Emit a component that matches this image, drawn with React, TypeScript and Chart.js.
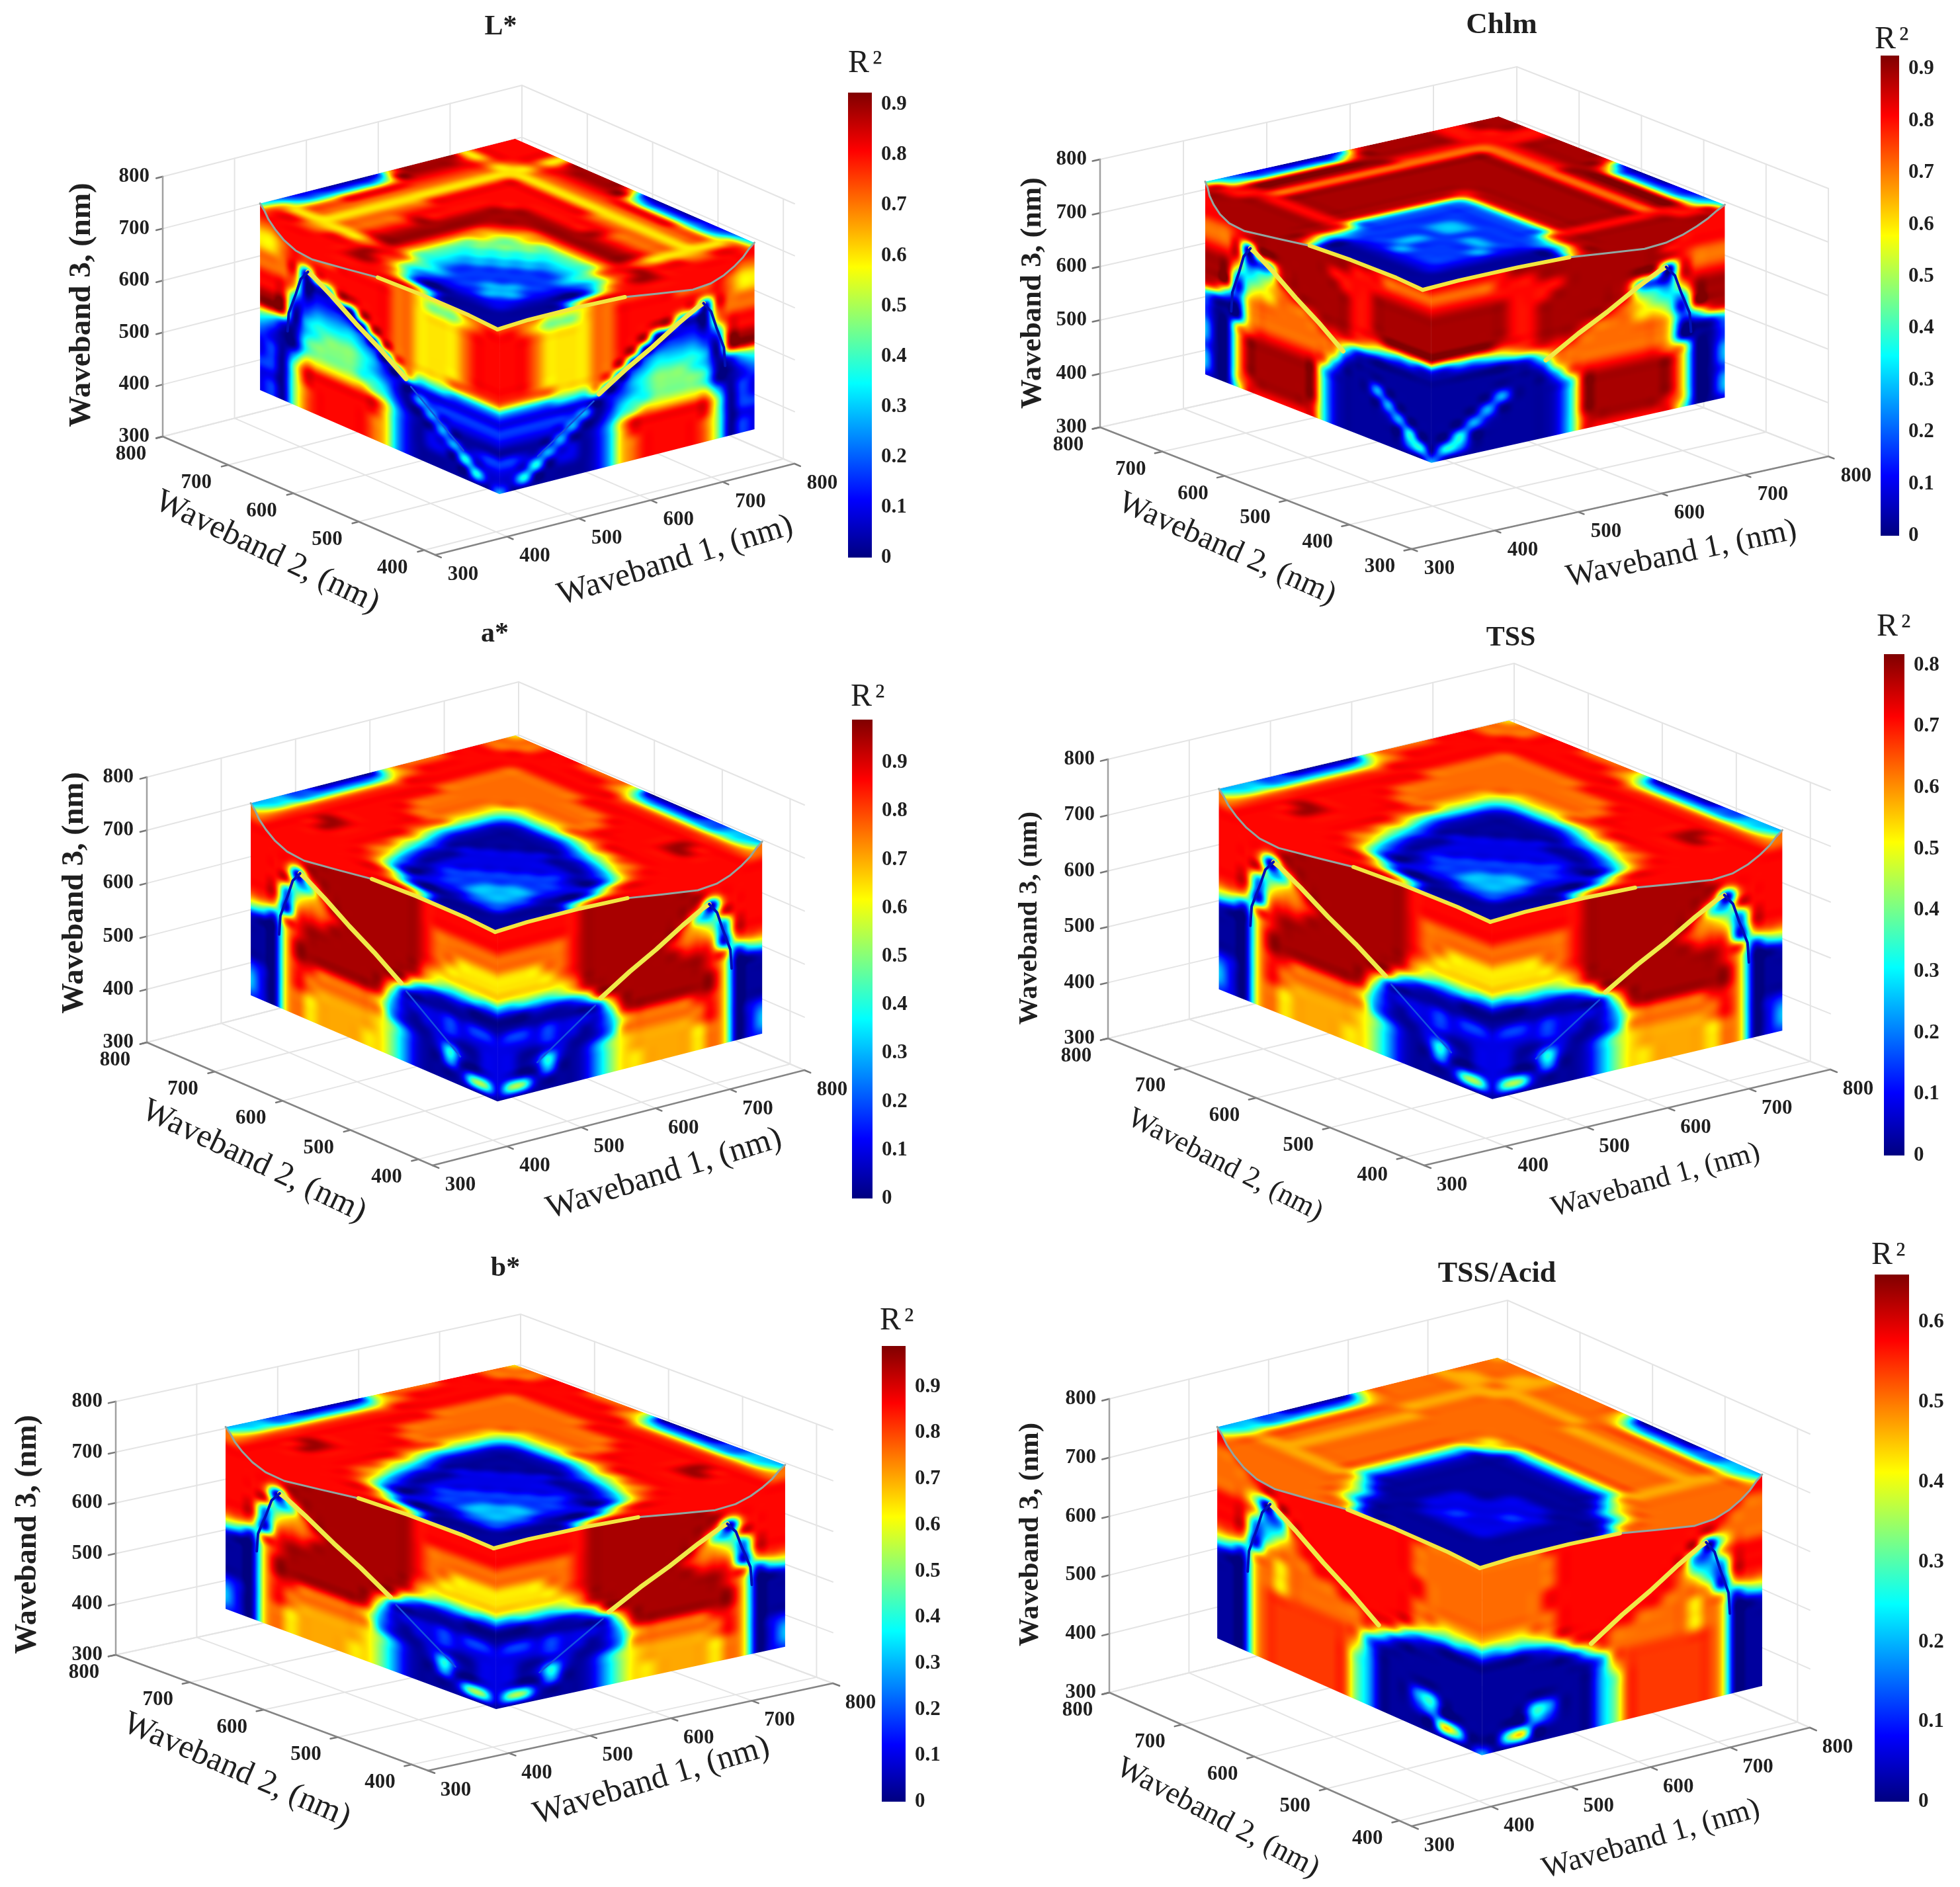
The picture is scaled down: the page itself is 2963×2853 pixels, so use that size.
import React, { useEffect, useRef } from 'react';
import { Chart, registerables } from 'chart.js';
Chart.register(...registerables);

// R², one hex digit per grid node: LEVELS[d] * colour-bar maximum.
const LEVELS = [0.03, 0.1, 0.18, 0.3, 0.4, 0.5, 0.65, 0.77, 0.87, 0.96, 0.71, 0.82];
const WB_TICKS = [300, 400, 500, 600, 700, 800];
const WB2_TICKS_SHORT = [400, 500, 600, 700, 800];

// Top faces: half of a symmetric grid (rows toward the left corner, columns toward the right corner), pitch 5 % of the edge.
const L_TOP = ['8','88','888','8887','66766','988768','9987688','99876888','998768888','9987688899','69876888999','158768889987','0387678899765','03876788997655','038767899975544','0387677899754433','13776778997543322','137767789975432222','2477677899754322233','36666666788754322232','478877888987532111111','5788888889987520','5788888888888887510','57888888888888887510','57888888888888887510','57888888888888887510'];
const CHL_TOP = ['9','99','998','8888','88887','999879','9998799','99987999','999879999','9998799999','79997999998','269979999984','0399799999832','03997999998322','039979999983223','0399799999832233','13997999998322222','139979999983222322','2499799999832223222','35888888888732223222','488899999998421111111','58999999999840','589999999999610','5899999999998410','5899999999998410','5899999999998410'];
const A_TOP = ['6','77','778','8888','88887','888877','7888777','78887777','788877777','7788777765','56888777642','047887776410','0378877764100','03788877741000','037888887410011','0378888875201111','23788888863101112','237888888641011222','3478998887520122233','34788988876310122333','357888888875201111222','4678888888887520','5678888888888887510','56788888888888887510','56788888888888887510','56788888888888887510'];
const TSS_TOP = A_TOP;
const B_TOP = A_TOP;
const ACID_TOP = ['a','77','777','7aa7','aaaaa','777a77','777a777','777a7777','777a77777','777a777776','5677a777764','0477a7777410','0377a77774100','0377a777741000','0377a7777410000','0377a77774100000','2377a777741000111','2377a7777410001111','3477a77774100011211','34aaaaaaaa4100011111','35777777776410','46777777777520','467777777777620','4677777777777620','4677777777777620','4677777777777620'];

// Side faces: rows from the top edge down, columns from the outer edge to the front edge.
const L_SIDE = ['8888777777777777777777','8888777777777777777777','7788777777777766667777','6678777888887765556788','6678788888887766667888','7778177888887766667888','7777012888887766667888','8886011108887766667888','8883122210887766667888','9991233332087766667888','9980344443207766677777','5420345554310644433333','3200455554321011111111','2100455554431032222222','1203666666542003111111','1205888888863100300000','2205888888863101131122','1105788888763101104111','1205788888763100000411','1205788888763100000003'];
const CHL_SIDE = ['8889999999999999888888','8889999999999999888888','8888999999999999888888','8888899999999988877777','7778899999998888888888','7778089999999888999999','8888123899999988999999','9996345899999988999999','9993456789999988999999','9991566777899988899999','8742677777788876543322','3100677777777521000000','2000677777776200000000','2006788888873000000000','3006999999941000300000','3006999999941000030000','2006999999941000013000','3006999999941000000400','3006899999841000000340','1005888888841000000003'];
const A_SIDE = ['7778888899999998888888','7788888899999998888888','8888888999999998888888','8888889999999998888888','8888799999999998888888','8887079999999998777777','8888348999999998777777','8883567999999998776666','8882677899999998766666','7761788999999997666666','5427899999999986544433','1006899999999842111000','0006999999996200000000','0006999999984111121221','0006887777763101121111','00068777777a3100110011','210687aaaaa653101410112','310676aaaaa653100300111','310676aaaa6653100015510','210676aaaa6653100000003'];
const TSS_SIDE = A_SIDE;
const B_SIDE = A_SIDE;
const ACID_SIDE = ['8888888888888888888888','8888888888888888888888','7788888888888888877777','7778888888888888777777','7777888888888888777777','7775088888888888777777','8886238888888888877777','8883347888888888877777','8882467888888888777777','7761677788888888776666','5426767777888888654433','1006767777778874210000','0006767777777520000000','0006bbbbbbb73100000000','0006bbbbbbb63000000000','0006bbbbbbb53000000000','0006bbbbbbb53000340000','0006bbbbbbb53000230000','0006bbbbbbb53000006500','0006bbbbbbb53000000003'];

// Ridge on the side faces and seam of the top face, as fractions of the face edges.
const RIDGE_U = [0.115, 0.12, 0.15, 0.17, 0.2, 0.225, 0.3, 0.4, 0.5, 0.61];
const RIDGE_V = [0.62, 0.52, 0.4, 0.31, 0.255, 0.27, 0.33, 0.42, 0.5, 0.6];
const TAIL_U = [0.63, 0.7, 0.78, 0.85];
const TAIL_V = [0.63, 0.7, 0.78, 0.85];
const SEAM_U = [1, 1.03, 1.07, 1.11, 1.15, 1.18, 1.19, 1.16, 1.13, 1.12, 1.12, 1.13];
const SEAM_V = [0, 0.05, 0.11, 0.18, 0.26, 0.34, 0.42, 0.53, 0.63, 0.8, 1.0, 1.13];
const SEAM_INNER_FROM = 8;

const PANELS: any[] = [
  { title: 'L*', tail: true, t: [757, 41, 42], r: [1282, 109], lf: [246, 660], fr: [658, 839], rt: [1201, 701], zTop: 267, w2Min: 383, w2Ticks: WB2_TICKS_SHORT, w1R: [400, 755], w2R: [394.7, 761], w3R: [375.5, 734.5], vmax: 0.924, top: L_TOP, side: L_SIDE, bar: [1282, 140, 36, 703], zl: [124, 461, 47], w2l: [404, 835, 50, 25.5], w1l: [1021, 848, 50, -17] },
  { title: 'Chlm', tail: false, t: [2270, 38, 45], r: [2834, 73], lf: [1663, 646], fr: [2134, 830], rt: [2764, 690], zTop: 241, w2Min: 300, w2Ticks: WB_TICKS, w1R: [400, 752], w2R: [402, 765], w3R: [380, 740], vmax: 0.926, top: CHL_TOP, side: CHL_SIDE, bar: [2843, 84, 28, 726], zl: [1561, 443, 44.5], w2l: [1855, 830, 48, 24], w1l: [2542, 838, 48, -11.8] },
  { title: 'a*', tail: true, t: [748, 959, 42], r: [1286, 1067], lf: [222, 1576], fr: [654, 1762], rt: [1216, 1618], zTop: 1175, w2Min: 379, w2Ticks: WB2_TICKS_SHORT, w1R: [400, 756], w2R: [393, 756.5], w3R: [377, 739], vmax: 0.989, top: A_TOP, side: A_SIDE, bar: [1288, 1088, 31, 724], zl: [113, 1350, 46.5], w2l: [384, 1756, 50, 25.5], w1l: [1004, 1775, 50, -17.2] },
  { title: 'TSS', tail: true, t: [2284, 965, 42], r: [2837, 961], lf: [1675, 1570], fr: [2153, 1762], rt: [2767, 1617], zTop: 1148, w2Min: 373, w2Ticks: WB2_TICKS_SHORT, w1R: [400, 757], w2R: [390.7, 760], w3R: [375, 734], vmax: 0.818, top: TSS_TOP, side: TSS_SIDE, bar: [2848, 989, 31, 758], zl: [1556, 1388, 41], w2l: [1852, 1762, 44, 27], w1l: [2503, 1785, 44, -15.3] },
  { title: 'b*', tail: true, t: [764, 1918, 42], r: [1330, 2010], lf: [175, 2502], fr: [647, 2677], rt: [1259, 2545], zTop: 2119, w2Min: 378, w2Ticks: WB2_TICKS_SHORT, w1R: [400, 757], w2R: [395.4, 761], w3R: [377.5, 736.5], vmax: 0.9885, top: B_TOP, side: B_SIDE, bar: [1333, 2035, 36, 689], zl: [42, 2320, 46], w2l: [358, 2677, 50, 23.4], w1l: [985, 2693, 50, -16.5] },
  { title: 'TSS/Acid', tail: false, t: [2263, 1927, 44], r: [2829, 1911], lf: [1677, 2559], fr: [2134, 2761], rt: [2736, 2612], zTop: 2115, w2Min: 383, w2Ticks: WB2_TICKS_SHORT, w1R: [400, 752], w2R: [396, 761], w3R: [380, 740], vmax: 0.66, top: ACID_TOP, side: ACID_SIDE, bar: [2834, 1927, 52, 797], zl: [1558, 2320, 43], w2l: [1841, 2749, 46, 27.7], w1l: [2496, 2781, 46, -16] },
];

const SERIF = '"Liberation Serif", serif';
const TEXT = '#1f1f1f';
const W = 2963;
const H = 2853;

const clamp01 = (v: number) => Math.max(0, Math.min(1, v));
function jet(t: number): [number, number, number] {
  return [
    255 * clamp01(Math.min(4 * t - 1.5, -4 * t + 4.5)),
    255 * clamp01(Math.min(4 * t - 0.5, -4 * t + 3.5)),
    255 * clamp01(Math.min(4 * t + 0.5, -4 * t + 2.5)),
  ];
}

function project(p: any, w1: number, w2: number, w3: number) {
  const a = (w1 - 300) / 500;
  const b = (w2 - p.w2Min) / (800 - p.w2Min);
  const c = (w3 - 300) / 500;
  return {
    x: p.fr[0] + a * (p.rt[0] - p.fr[0]) + b * (p.lf[0] - p.fr[0]),
    y: p.fr[1] + a * (p.rt[1] - p.fr[1]) + b * (p.lf[1] - p.fr[1]) - c * (p.lf[1] - p.zTop),
  };
}
const lerp = (r: number[], f: number) => r[1] - f * (r[1] - r[0]);
const topPt = (p: any, u: number, v: number) => project(p, lerp(p.w1R, u), lerp(p.w2R, v), p.w3R[1]);
const leftPt = (p: any, u: number, v: number) => project(p, p.w1R[0], lerp(p.w2R, u), lerp(p.w3R, v));
const rightPt = (p: any, u: number, v: number) => project(p, lerp(p.w1R, u), p.w2R[0], lerp(p.w3R, v));

const lv = (ch: string) => LEVELS[parseInt(ch, 16)];
function parseRows(rows: string[]) {
  const cols = rows.reduce((m, r) => Math.min(m, r.length), 99);
  return rows.map((r) => Array.from({ length: cols }, (_, c) => lv(r[c])));
}
function parseHalf(rows: string[]) {
  const n = rows.length;
  return Array.from({ length: n }, (_, i) =>
    Array.from({ length: n }, (_, j) => {
      const row = i >= j ? rows[i] : rows[j];
      const k = i >= j ? j : i;
      return lv(row[Math.min(k, row.length - 1)]);
    })
  );
}

function cubic(a: number, b: number, c: number, d: number, t: number) {
  return b + 0.5 * t * (c - a + t * (2 * a - 5 * b + 4 * c - d + t * (3 * (b - c) + d - a)));
}
function rasterize(mat: number[][], w: number, h: number) {
  const R = mat.length;
  const C = mat[0].length;
  const cv = document.createElement('canvas');
  cv.width = w;
  cv.height = h;
  const g = cv.getContext('2d')!;
  const img = g.createImageData(w, h);
  const horiz = mat.map((row) => {
    const out = new Float32Array(w);
    for (let x = 0; x < w; x++) {
      const f = (x / (w - 1)) * (C - 1);
      const i = Math.min(Math.floor(f), C - 2);
      out[x] = cubic(row[Math.max(i - 1, 0)], row[i], row[i + 1], row[Math.min(i + 2, C - 1)], f - i);
    }
    return out;
  });
  for (let y = 0; y < h; y++) {
    const f = (y / (h - 1)) * (R - 1);
    const i = Math.min(Math.floor(f), R - 2);
    const r0 = horiz[Math.max(i - 1, 0)];
    const r1 = horiz[i];
    const r2 = horiz[i + 1];
    const r3 = horiz[Math.min(i + 2, R - 1)];
    for (let x = 0; x < w; x++) {
      const [cr, cg, cb] = jet(clamp01(cubic(r0[x], r1[x], r2[x], r3[x], f - i)));
      const o = (y * w + x) * 4;
      img.data[o] = cr;
      img.data[o + 1] = cg;
      img.data[o + 2] = cb;
      img.data[o + 3] = 255;
    }
  }
  g.putImageData(img, 0, 0);
  return cv;
}

const seamLeft = () => SEAM_U.map((u, i) => [u, SEAM_V[i]]);
const seamOutline = () => {
  const l = seamLeft();
  const r = l.slice(0, -1).reverse().map(([u, v]) => [v, u]);
  return [...l, ...r];
};

function line(points: any[], color: string, width: number, order = 1) {
  return { type: 'scatter', data: points, showLine: true, pointRadius: 0, borderColor: color, borderWidth: width, borderCapStyle: 'round', borderJoinStyle: 'round', tension: 0, fill: false, order, clip: false };
}

function buildDatasets() {
  const ds: any[] = [];
  PANELS.forEach((p, idx) => {
    const P = (a: number, b: number, c: number) => project(p, a, b, c);
    const GRID = '#e4e4e4';
    WB_TICKS.forEach((t) => {
      ds.push(line([P(t, p.w2Min, 300), P(t, 800, 300)], GRID, 2, 4));
      ds.push(line([P(t, 800, 300), P(t, 800, 800)], GRID, 2, 4));
      ds.push(line([P(300, 800, t), P(800, 800, t)], GRID, 2, 4));
      ds.push(line([P(800, p.w2Min, t), P(800, 800, t)], GRID, 2, 4));
    });
    p.w2Ticks.forEach((t: number) => {
      ds.push(line([P(300, t, 300), P(800, t, 300)], GRID, 2, 4));
      ds.push(line([P(800, t, 300), P(800, t, 800)], GRID, 2, 4));
    });
    ds.push(line([P(300, 800, 300), P(300, p.w2Min, 300)], '#858585', 2.5, 3));
    ds.push(line([P(300, p.w2Min, 300), P(800, p.w2Min, 300)], '#858585', 2.5, 3));
    ds.push(line([P(300, 800, 300), P(300, 800, 800)], '#a0a0a0', 2.5, 3));
    WB_TICKS.forEach((t) => {
      ds.push(line([P(t, p.w2Min, 300), P(t, p.w2Min - 9, 300)], '#777', 2.5, 3));
      ds.push(line([P(300, 800, t), P(291, 800, t)], '#777', 2.5, 3));
    });
    p.w2Ticks.forEach((t: number) => ds.push(line([P(300, t, 300), P(291, t, 300)], '#777', 2.5, 3)));

    const a = p.w1R;
    const b = p.w2R;
    const c = p.w3R;
    ds.push({ type: 'scatter', data: [P(a[1], b[1], c[1]), P(a[0], b[1], c[1]), P(a[1], b[0], c[1]), P(a[0], b[0], c[0]), P(a[0], b[1], c[0]), P(a[1], b[0], c[0])], showLine: false, pointRadius: 0, order: 2, facePanel: idx });

    [(u: number, v: number) => leftPt(p, u, v), (u: number, v: number) => rightPt(p, u, v)].forEach((f) => {
      const pts = RIDGE_U.map((u, i) => f(u, RIDGE_V[i]));
      ds.push(line(pts.slice(0, 5), '#0010b8', 4));
      ds.push(line(pts.slice(4), '#f0ea48', 7));
      ds.push(line(pts.slice(4), '#1fd6ee', 5.5));
      ds.push(line(pts.slice(4), '#0010b8', 3.5));
      if (p.tail) {
        ds.push(line(pts.slice(6), '#9aa6a6', 1.5));
        ds.push(line(TAIL_U.map((u, i) => f(u, TAIL_V[i])), '#1450e0', 2.5));
      }
    });
    const seam = seamLeft();
    const inner = seam.slice(SEAM_INNER_FROM);
    [inner, inner.map(([u, v]) => [v, u])].forEach((s) => {
      const pts = s.map(([u, v]) => topPt(p, u, v));
      ds.push(line(pts, '#f3e63f', 6));
      ds.push(line(pts, '#27d8e8', 3.5));
    });
    const outer = seam.slice(0, SEAM_INNER_FROM + 2);
    [outer, outer.map(([u, v]) => [v, u])].forEach((s) => ds.push(line(s.map(([u, v]) => topPt(p, u, v)), '#93a5a0', 3)));
  });
  return ds;
}

function drawFace(ctx: CanvasRenderingContext2D, img: HTMLCanvasElement, o: number[], ex: number[], ey: number[]) {
  ctx.save();
  ctx.transform((ex[0] - o[0]) / img.width, (ex[1] - o[1]) / img.width, (ey[0] - o[0]) / img.height, (ey[1] - o[1]) / img.height, o[0], o[1]);
  ctx.imageSmoothingEnabled = true;
  ctx.drawImage(img, 0, 0);
  ctx.restore();
}

const faceCache = new Map<number, any>();
function facesOf(i: number) {
  if (!faceCache.has(i)) {
    const p = PANELS[i];
    const side = rasterize(parseRows(p.side), 380, 300);
    const top = rasterize(parseHalf(p.top), 540, 540);
    faceCache.set(i, { side, top });
  }
  return faceCache.get(i);
}

const facePlugin = {
  id: 'cubeFaces',
  afterDatasetDraw(chart: any, args: any) {
    const d = chart.data.datasets[args.index];
    if (d.facePanel === undefined) return;
    const p = PANELS[d.facePanel];
    const px = (q: any) => [chart.scales.x.getPixelForValue(q.x), chart.scales.y.getPixelForValue(q.y)];
    const ctx = chart.ctx;
    const f = facesOf(d.facePanel);
    drawFace(ctx, f.side, px(leftPt(p, 0, 0)), px(leftPt(p, 1, 0)), px(leftPt(p, 0, 1)));
    drawFace(ctx, f.side, px(rightPt(p, 0, 0)), px(rightPt(p, 1, 0)), px(rightPt(p, 0, 1)));
    ctx.save();
    ctx.beginPath();
    const b = px(topPt(p, 0, 0));
    ctx.moveTo(b[0], b[1]);
    seamOutline().forEach(([u, v]) => {
      const q = px(topPt(p, u, v));
      ctx.lineTo(q[0], q[1]);
    });
    ctx.closePath();
    ctx.clip();
    drawFace(ctx, f.top, b, px(topPt(p, 1.25, 0)), px(topPt(p, 0, 1.25)));
    ctx.restore();
  },
};

const textPlugin = {
  id: 'panelText',
  afterDraw(chart: any) {
    const ctx = chart.ctx;
    const X = (v: number) => chart.scales.x.getPixelForValue(v);
    const Y = (v: number) => chart.scales.y.getPixelForValue(v);
    const put = (s: string, x: number, y: number, font: string, align: any = 'center', base: any = 'middle', deg = 0, spacing = '0px') => {
      ctx.save();
      ctx.translate(X(x), Y(y));
      ctx.rotate((deg * Math.PI) / 180);
      ctx.font = font;
      (ctx as any).letterSpacing = spacing;
      ctx.fillStyle = TEXT;
      ctx.textAlign = align;
      ctx.textBaseline = base;
      ctx.fillText(s, 0, 0);
      ctx.restore();
    };
    PANELS.forEach((p) => {
      put(p.title, p.t[0], p.t[1], `bold ${p.t[2]}px ${SERIF}`);
      put('R²', p.r[0], p.r[1], `48px ${SERIF}`, 'left', 'alphabetic', 0, '5px');
      put('Waveband 3, (nm)', p.zl[0], p.zl[1], `bold ${p.zl[2]}px ${SERIF}`, 'center', 'middle', -90);
      put('Waveband 2, (nm)', p.w2l[0], p.w2l[1], `${p.w2l[2]}px ${SERIF}`, 'center', 'middle', p.w2l[3]);
      put('Waveband 1, (nm)', p.w1l[0], p.w1l[1], `${p.w1l[2]}px ${SERIF}`, 'center', 'middle', p.w1l[3]);
      const tf = `bold 31px ${SERIF}`;
      WB_TICKS.forEach((t) => {
        const z = project(p, 300, 800, t);
        put(String(t), z.x - 20, z.y, tf, 'right');
        const a = project(p, t, p.w2Min, 300);
        put(String(t), a.x + 42, a.y + 30, tf);
      });
      p.w2Ticks.forEach((t: number) => {
        const a = project(p, 300, t, 300);
        put(String(t), a.x - 48, a.y + 27, tf);
      });
    });
  },
};

const BAR_PAD = 26;
const BAR_LABEL_W = 90;

export default function App() {
  const mainRef = useRef<HTMLCanvasElement>(null);
  const barRefs = useRef<(HTMLCanvasElement | null)[]>([]);
  useEffect(() => {
    document.body.style.margin = '0';
    document.body.style.background = '#fff';
    const charts: Chart[] = [];
    charts.push(
      new Chart(mainRef.current!, {
        type: 'scatter',
        data: { datasets: buildDatasets() },
        plugins: [facePlugin, textPlugin],
        options: {
          responsive: false,
          animation: false,
          layout: { padding: 0 },
          plugins: { legend: { display: false }, tooltip: { enabled: false }, title: { display: false } },
          scales: {
            x: { type: 'linear', min: 0, max: W, display: false },
            y: { type: 'linear', min: 0, max: H, reverse: true, display: false },
          },
        },
      } as any)
    );
    PANELS.forEach((p, i) => {
      charts.push(
        new Chart(barRefs.current[i]!, {
          type: 'bar',
          data: {
            labels: ['R²'],
            datasets: [
              {
                data: [[0, p.vmax]],
                barPercentage: 1,
                categoryPercentage: 1,
                borderWidth: 0,
                backgroundColor: (c: any) => {
                  const area = c.chart.chartArea;
                  if (!area) return '#000';
                  const g = c.chart.ctx.createLinearGradient(0, area.bottom, 0, area.top);
                  for (let s = 0; s <= 32; s++) {
                    const [r, gg, b] = jet(s / 32);
                    g.addColorStop(s / 32, `rgb(${r},${gg},${b})`);
                  }
                  return g;
                },
              },
            ],
          },
          options: {
            responsive: false,
            animation: false,
            layout: { padding: { top: BAR_PAD, bottom: BAR_PAD, left: 0, right: 0 } },
            plugins: { legend: { display: false }, tooltip: { enabled: false } },
            scales: {
              x: { display: false },
              y: {
                position: 'right',
                min: 0,
                max: p.vmax,
                grid: { display: false },
                border: { display: false },
                afterFit: (s: any) => { s.width = BAR_LABEL_W; },
                ticks: {
                  stepSize: 0.1,
                  includeBounds: false,
                  padding: 6,
                  color: TEXT,
                  font: { family: SERIF, size: 31, weight: 'bold' },
                  callback: (v: number) => (v === 0 ? '0' : v.toFixed(1)),
                },
              },
            },
          },
        } as any)
      );
    });
    return () => charts.forEach((c) => c.destroy());
  }, []);
  return (
    <div style={{ position: 'absolute', left: 0, top: 0, width: W, height: H, background: '#fff', overflow: 'hidden' }}>
      <canvas ref={mainRef} width={W} height={H} style={{ position: 'absolute', left: 0, top: 0 }} />
      {PANELS.map((p, i) => (
        <canvas
          key={p.title}
          ref={(el) => { barRefs.current[i] = el; }}
          width={p.bar[2] + BAR_LABEL_W}
          height={p.bar[3] + 2 * BAR_PAD}
          style={{ position: 'absolute', left: p.bar[0], top: p.bar[1] - BAR_PAD }}
        />
      ))}
    </div>
  );
}
